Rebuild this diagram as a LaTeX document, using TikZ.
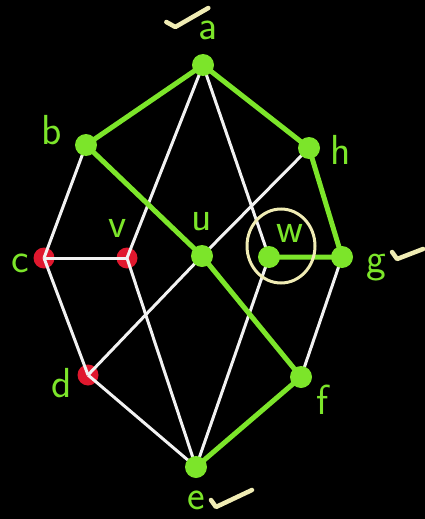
\documentclass[tikz,border=0pt]{standalone}
\usepackage{xcolor}
\usepackage{tikz}
\usetikzlibrary{calc}
\definecolor{lime}{HTML}{7CE52A}
\definecolor{redpt}{HTML}{E0182E}
\definecolor{chalk}{HTML}{F2F2F2}
\definecolor{pale}{HTML}{F0ECB4}

\begin{document}
\begin{tikzpicture}[x=1pt,y=-1pt,
  gdot/.style={circle,fill=lime,inner sep=0pt,minimum size=22pt},
  rdot/.style={circle,fill=redpt,inner sep=0pt,minimum size=21pt},
  wline/.style={draw=chalk,line width=3pt},
  gline/.style={draw=lime,line width=5pt},
  lbl/.style={text=lime,inner sep=0pt,font=\fontsize{42}{42}\selectfont\sffamily},
  tick/.style={draw=pale,line width=4.5pt,line cap=round,line join=round},
  ring/.style={draw=pale,line width=3pt}]
  \fill[black] (0,0) rectangle (425,519);
  \useasboundingbox (0,0) rectangle (425,519);

  % red vertices go under the white edges
  \node[rdot] (c) at (44,258) {};
  \node[rdot] (v) at (127,258) {};
  \node[rdot] (d) at (88,375) {};
  \coordinate (a) at (203,65);
  \coordinate (b) at (86,145);
  \coordinate (h) at (309,148);
  \coordinate (u) at (202,256);
  \coordinate (w) at (269,257);
  \coordinate (g) at (342,257);
  \coordinate (f) at (301,377);
  \coordinate (e) at (196,467);

  \draw[wline] (a) -- (v.center);
  \draw[wline] (a) -- (w);
  \draw[wline] (b) -- (c.center);
  \draw[wline] (c.center) -- (v.center);
  \draw[wline] (c.center) -- (d.center);
  \draw[wline] (h) -- (u);
  \draw[wline] (u) -- (d.center);
  \draw[wline] (d.center) -- (e);
  \draw[wline] (v.center) -- (e);
  \draw[wline] (w) -- (e);
  \draw[wline] (g) -- (f);

  \draw[gline] (b) -- (a) -- (h) -- (g) -- (w);
  \draw[gline] (b) -- (u) -- (f) -- (e);

  \foreach \p in {a,b,h,u,w,g,f,e}
    \node[gdot] (\p dot) at (\p) {};

  \draw[ring] ([xshift=12pt,yshift=11pt]w) circle[x radius=34pt,y radius=37pt];

  \node[lbl] (la) at (208,30) {a};
  \node[lbl] (lb) at (52,130) {b};
  \node[lbl] (lh) at (341,150) {h};
  \node[lbl] (lc) at (20,263) {c};
  \node[lbl] (lv) at (118,228) {v};
  \node[lbl] (lu) at (202,222) {u};
  \node[lbl] (lw) at (290,233) {w};
  \node[lbl] (lg) at (376,268) {g};
  \node[lbl] (ld) at (62,383) {d};
  \node[lbl] (lf) at (323,400) {f};
  \node[lbl] (le) at (196,500) {e};

  % checks
  \draw[tick] ($(la.west)+(-32,-8)$) -- ++(9,5) -- ++(33,-19);
  \draw[tick] ($(lg.east)+(6,-16)$) -- ++(5,7) -- ++(26,-10);
  \draw[tick] ($(le.east)+(6,0)$) -- ++(5,7) -- ++(36,-17);
\end{tikzpicture}
\end{document}
